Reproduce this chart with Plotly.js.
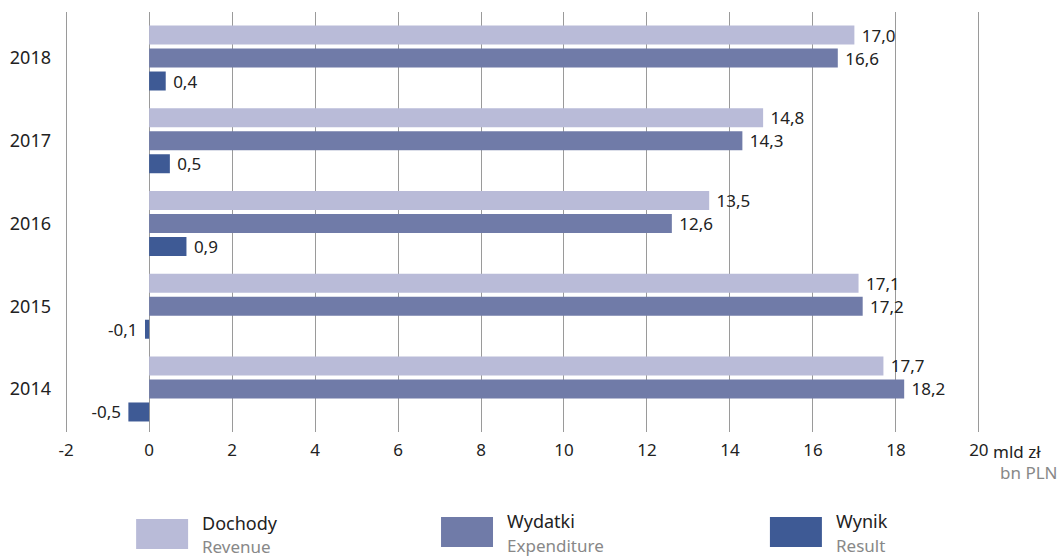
<!DOCTYPE html>
<html>
<head>
<meta charset="utf-8">
<script src="https://cdn.plot.ly/plotly-3.0.1.min.js"></script>
<style>html,body{margin:0;padding:0;background:#fff;}#chart{width:1061px;height:558px;}</style>
</head>
<body>
<div id="chart"></div>
<script>
const years = ['2014', '2015', '2016', '2017', '2018'];
const revenue = [17.7, 17.1, 13.5, 14.8, 17.0];
const expenditure = [18.2, 17.2, 12.6, 14.3, 16.6];
const result = [-0.5, -0.1, 0.9, 0.5, 0.4];
const tickVals = [-2, 0, 2, 4, 6, 8, 10, 12, 14, 16, 18, 20];
const tickText = ['-2', '0', '2', '4', '6', '8', '10', '12', '14', '16', '18', '20'];
const unitPL = 'mld zł';
const unitEN = 'bn PLN';
const seriesPL = ['Dochody', 'Wydatki', 'Wynik'];
const seriesEN = ['Revenue', 'Expenditure', 'Result'];
const colors = ['#b9bbd8', '#707ba8', '#3e5a95'];

const FONT = 'Noto Sans, Open Sans, sans-serif';
const PAD = '\u00a0';
function barTrace(vals, idx) {
  return {
    type: 'bar', orientation: 'h', y: years, x: vals,
    name: seriesPL[idx],
    marker: {color: colors[idx]},
    text: vals.map(v => {
      const s = v.toFixed(1).replace('.', ',');
      return v < 0 ? s + PAD : PAD + s;
    }),
    textposition: 'outside',
    constraintext: 'none',
    textfont: {size: 17, color: '#222', family: FONT},
    cliponaxis: false,
    hoverinfo: 'x+y'
  };
}
const data = [barTrace(result, 2), barTrace(expenditure, 1), barTrace(revenue, 0)];

const EXT = 0.1;
const XR = [-2 - EXT, 20 + EXT];
const L = 66 - EXT * 41.5, R = 979 + EXT * 41.5, PW = R - L;
const T = 12, B = 432, PH = B - T;
const px = v => (v - L) / PW;
const py = v => (B - v) / PH;

const shapes = [];
const annotations = [];
const legX = [136, 441, 770];
const legY = [[519, 549], [517, 547], [517, 547]];
for (let i = 0; i < 3; i++) {
  shapes.push({type: 'rect', xref: 'paper', yref: 'paper',
    x0: px(legX[i]), x1: px(legX[i] + 52),
    y0: py(legY[i][1]), y1: py(legY[i][0]),
    fillcolor: colors[i], line: {width: 0}});
  annotations.push({xref: 'paper', yref: 'paper', x: px(legX[i] + 64),
    y: py(i ? 521 : 523), xanchor: 'left', yanchor: 'middle', showarrow: false,
    text: seriesPL[i], font: {size: 18, color: '#222', family: FONT}});
  annotations.push({xref: 'paper', yref: 'paper', x: px(legX[i] + 64),
    y: py(i ? 545 : 546), xanchor: 'left', yanchor: 'middle', showarrow: false,
    text: seriesEN[i], font: {size: 17, color: '#888', family: FONT}});
}
annotations.push({xref: 'x', yref: 'paper', x: 20, y: py(451),
  xanchor: 'left', xshift: 12, yanchor: 'middle', showarrow: false,
  text: unitPL, font: {size: 17, color: '#222', family: FONT}});
annotations.push({xref: 'paper', yref: 'paper', x: px(1060), y: py(472),
  xanchor: 'right', yanchor: 'middle', showarrow: false,
  text: unitEN, font: {size: 17, color: '#888', family: FONT}});

const layout = {
  width: 1061, height: 558,
  margin: {l: L, r: 1061 - R, t: T, b: 558 - B},
  paper_bgcolor: '#fff', plot_bgcolor: '#fff',
  separators: ', ',
  barmode: 'group', bargap: 0.166, bargroupgap: 0.174,
  showlegend: false,
  font: {family: FONT, size: 17, color: '#222'},
  xaxis: {
    range: XR, tickvals: tickVals, ticktext: tickText,
    showgrid: true, gridcolor: '#9a9a9a', gridwidth: 1,
    zeroline: true, zerolinecolor: '#9a9a9a', zerolinewidth: 1,
    showline: false, ticks: '', ticklabelstandoff: 6,
    tickfont: {size: 17, color: '#222', family: FONT}, fixedrange: true
  },
  yaxis: {
    type: 'category', categoryorder: 'array', categoryarray: years,
    range: [-0.52, 4.556], showgrid: false, zeroline: false, showline: false,
    ticks: '', ticklabelstandoff: 10,
    tickfont: {size: 18, color: '#222', family: FONT}, fixedrange: true
  },
  shapes: shapes,
  annotations: annotations
};
Plotly.newPlot('chart', data, layout, {displayModeBar: false, staticPlot: true});
</script>
</body>
</html>
